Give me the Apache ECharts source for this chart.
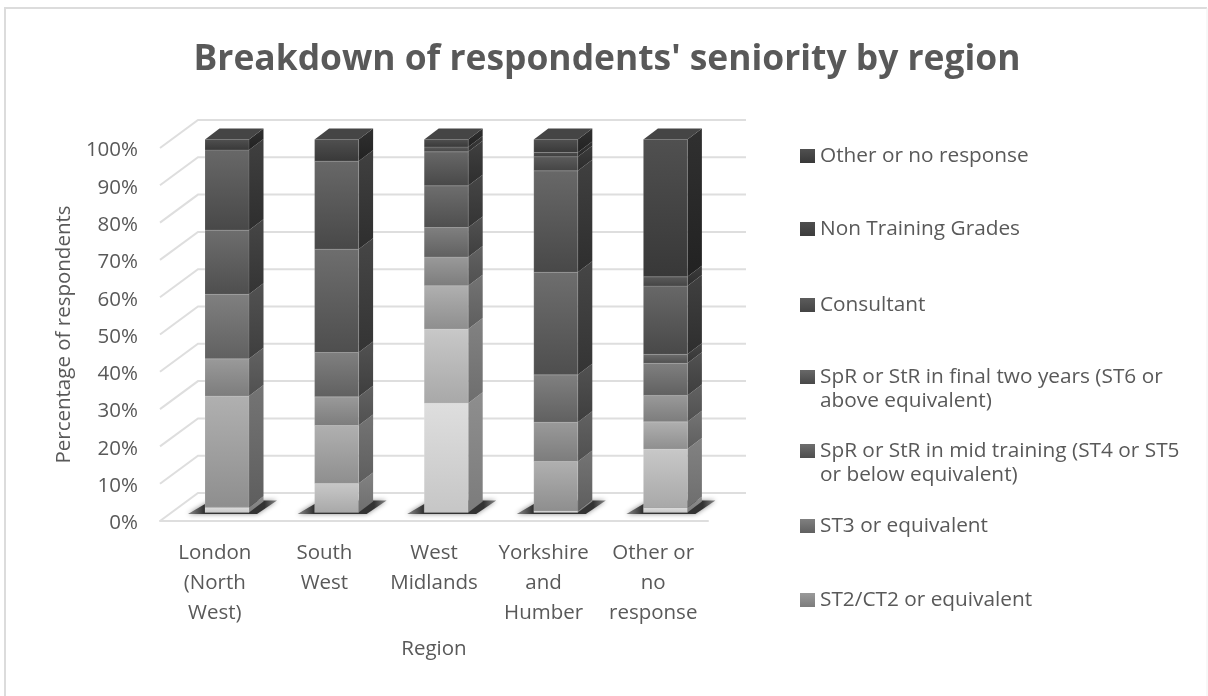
<!DOCTYPE html>
<html><head><meta charset="utf-8">
<style>html,body{margin:0;padding:0;background:#fff}#c{width:1208px;height:696px}</style>
<script src="https://cdn.jsdelivr.net/npm/echarts@6/dist/echarts.min.js"></script>
</head><body><div id="c"></div>
<script>
const chartTitle = "Breakdown of respondents' seniority by region";
const categories = ['London\n(North\nWest)', 'South\nWest', 'West\nMidlands', 'Yorkshire\nand\nHumber', 'Other or\nno\nresponse'];
const gridTicks = [0,10,20,30,40,50,60,70,80,90,100];

const foundation1 = [1.4, 0, 29.3, 0.5, 1.3];
const foundation2 = [0, 7.8, 19.9, 0, 15.7];
const st1 = [29.8, 15.5, 11.6, 13.2, 7.3];
const st2 = [10, 7.7, 7.7, 10.5, 7.1];
const st3 = [17.3, 11.9, 7.9, 12.7, 8.6];
const midTraining = [17.2, 27.7, 11.2, 27.5, 2.4];
const finalYears = [21.5, 23.6, 9.1, 27.2, 18.3];
const consultant = [0, 0, 1.3, 3.8, 2.5];
const nonTraining = [0, 0, 0, 1.1, 0];
const otherNoResponse = [2.8, 5.8, 2, 3.5, 36.8];

const layers = [
  {name:'Foundation Year 1', values:foundation1, front:['#dedede','#c6c6c6'], side:['#8e8e8e','#7c7c7c']},
  {name:'Foundation Year 2', values:foundation2, front:['#c8c8c8','#a8a8a8'], side:['#828282','#6e6e6e']},
  {name:'ST1/CT1 or equivalent', values:st1, front:['#b0b0b0','#8e8e8e'], side:['#747474','#5e5e5e']},
  {name:'ST2/CT2 or equivalent', values:st2, front:['#9a9a9a','#7c7c7c'], side:['#626262','#505050']},
  {name:'ST3 or equivalent', values:st3, front:['#808080','#606060'], side:['#525252','#3e3e3e']},
  {name:'SpR or StR in mid training (ST4 or ST5 or below equivalent)', values:midTraining, front:['#6e6e6e','#4e4e4e'], side:['#464646','#343434']},
  {name:'SpR or StR in final two years (ST6 or above equivalent)', values:finalYears, front:['#686868','#484848'], side:['#404040','#2e2e2e']},
  {name:'Consultant', values:consultant, front:['#5c5c5c','#444444'], side:['#3c3c3c','#2c2c2c']},
  {name:'Non Training Grades', values:nonTraining, front:['#4e4e4e','#3c3c3c'], side:['#343434','#282828']},
  {name:'Other or no response', values:otherNoResponse, front:['#505050','#383838'], side:['#303030','#222222']}
];
const legendEntries = [
  {name:'Other or no response', top:144},
  {name:'Non Training Grades', top:217},
  {name:'Consultant', top:293},
  {name:'SpR or StR in final two years (ST6 or above equivalent)', label:'\nSpR or StR in final two years (ST6 or\nabove equivalent)', top:341},
  {name:'SpR or StR in mid training (ST4 or ST5 or below equivalent)', label:'\nSpR or StR in mid training (ST4 or ST5\nor below equivalent)', top:415},
  {name:'ST3 or equivalent', top:514},
  {name:'ST2/CT2 or equivalent', top:588}
];

const FONT = '"Open Sans"';
const TXT = '#595959';
const FS = 20.5, LEGEND_FS = 20.8;
const DX = 14.5, DY = 11;           // bar depth
const WX = 38, WY = 28;             // wall depth
const BAR_OFF_X = 12.2, BAR_OFF_Y = -8.5, BAR_W = 44;
const grad = c => new echarts.graphic.LinearGradient(0,0,0,1,[{offset:0,color:c[0]},{offset:1,color:c[1]}]);

// cumulative starts
const totals = categories.map(()=>0);
const stacked = layers.map(l => l.values.map((v,i)=>{ const s=totals[i]; totals[i]+=v; return [i,s,s+v]; }));

const barSeries = layers.map((l,li)=>({
  type:'custom', name:l.name, coordinateSystem:'cartesian2d', z:5+li,
  itemStyle:{color:grad(l.front)}, silent:true,
  data:stacked[li], encode:{x:0,y:[1,2]},
  renderItem(p,api){
    const c=api.value(0), v0=api.value(1), v1=api.value(2);
    if(v1-v0<=0) return null;
    const a=api.coord([c,v0]), b=api.coord([c,v1]);
    const xl=a[0]+BAR_OFF_X-BAR_W/2, xr=xl+BAR_W, yb=a[1]+BAR_OFF_Y, yt=b[1]+BAR_OFF_Y;
    const kids=[
      {type:'polygon',shape:{points:[[xr,yt],[xr+DX,yt-DY],[xr+DX,yb-DY],[xr,yb]]},style:{fill:grad(l.side)}},
      {type:'rect',shape:{x:xl,y:yt,width:BAR_W,height:yb-yt},style:{fill:grad(l.front),stroke:'rgba(255,255,255,0.13)',lineWidth:1}}
    ];
    if(v1>=99.9) kids.push({type:'polygon',shape:{points:[[xl,yt],[xl+DX,yt-DY],[xr+DX,yt-DY],[xr,yt]]},style:{fill:'#454545'}});
    return {type:'group',children:kids};
  }
}));

const wallSeries = {
  type:'custom', name:'grid', silent:true, z:1, data:gridTicks.map(t=>[t]), encode:{y:0},
  renderItem(p,api){
    const v=api.value(0);
    const x0=p.coordSys.x, x1=p.coordSys.x+p.coordSys.width, y=api.coord([0,v])[1];
    const st={stroke:'#dedede',lineWidth:2,fill:null};
    return {type:'group',children:[
      {type:'polyline',shape:{points:[[x0,y],[x0+WX,y-WY],[x1+WX,y-WY]]},style:st}
    ]};
  }
};
const shadowSeries = {
  type:'custom', name:'shadow', silent:true, z:2, data:categories.map((_,i)=>[i,0]), encode:{x:0,y:1},
  renderItem(p,api){
    const a=api.coord([api.value(0),api.value(1)]);
    const xl=a[0]+BAR_OFF_X-BAR_W/2, xr=xl+BAR_W, yb=a[1]+BAR_OFF_Y;
    return {type:'polygon',shape:{points:[[xl-17,yb+1.5],[xl+6,yb-12],[xr+28,yb-12],[xr+8,yb+1.5]]},
      style:{fill:new echarts.graphic.LinearGradient(0,0,1,0,[{offset:0,color:'#888'},{offset:.18,color:'#333'},{offset:.86,color:'#333'},{offset:1,color:'#888'}]),shadowBlur:5,shadowColor:'rgba(0,0,0,.45)'}};
  }
};

const option = {
  animation:false, backgroundColor:'#fff',
  title:{text:chartTitle,left:602,top:37,textAlign:'center',textStyle:{fontFamily:FONT,fontWeight:'bold',fontSize:35.4,color:TXT}},
  grid:{left:160,top:148,width:548,height:373,containLabel:false},
  xAxis:{type:'category',data:categories,boundaryGap:true,name:'Region',nameLocation:'middle',nameGap:118,
    nameTextStyle:{fontFamily:FONT,fontSize:FS,color:TXT},
    axisLine:{show:true,lineStyle:{color:'#dedede',width:2}},axisTick:{show:false},splitLine:{show:false},
    axisLabel:{interval:0,fontFamily:FONT,fontSize:FS,color:TXT,lineHeight:30,margin:17}},
  yAxis:{type:'value',min:0,max:100,interval:10,name:'Percentage of respondents',nameLocation:'middle',nameGap:85,nameRotate:90,
    nameTextStyle:{fontFamily:FONT,fontSize:FS,color:TXT},
    axisLine:{show:false},axisTick:{show:false},splitLine:{show:false},
    axisLabel:{formatter:'{a|{value}%}',margin:22,rich:{a:{fontFamily:FONT,fontSize:FS,color:TXT,padding:[5,0,0,0]}}}},
  legend:legendEntries.map(e=>({
    data:[e.name],left:800,top:e.top,orient:'vertical',padding:0,itemWidth:15,itemHeight:14,itemGap:0,icon:'rect',
    selectedMode:false,
    formatter:()=>e.label||e.name,
    textStyle:{fontFamily:FONT,fontSize:LEGEND_FS,color:TXT,lineHeight:24}
  })),
  graphic:[
    {type:'polyline',silent:true,shape:{points:[[5,700],[5,8],[1207,8]]},style:{stroke:'#dcdcdc',lineWidth:2,fill:null}},
    {type:'line',silent:true,shape:{x1:1207,y1:8,x2:1207,y2:700},style:{stroke:'#f0f0f0',lineWidth:1}}
  ],
  series:[wallSeries,shadowSeries,...barSeries]
};
const chart=echarts.init(document.getElementById('c'),null,{renderer:'canvas'});
chart.setOption(option);
</script></body></html>
